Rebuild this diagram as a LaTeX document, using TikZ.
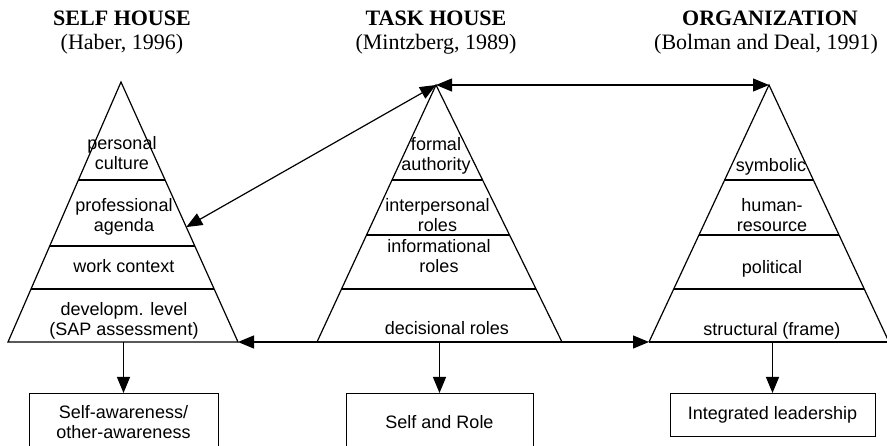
\documentclass[tikz,border=0pt]{standalone}
\usepackage{fontspec}
\setmainfont{Liberation Sans}
\newfontfamily\serifti{Liberation Serif}
\usetikzlibrary{arrows.meta,calc}
\begin{document}
\begin{tikzpicture}[x=1pt,y=-1pt, line width=1.2pt,
  lbl/.style={font=\fontsize{18}{20}\selectfont, align=center, inner sep=0pt},
  ttl/.style={font=\serifti\bfseries\fontsize{22}{24}\selectfont, anchor=base, inner sep=0pt},
  cite/.style={font=\serifti\fontsize{22}{24}\selectfont, anchor=base, inner sep=0pt},
  box/.style={draw, line width=1pt, font=\fontsize{18}{20}\selectfont, align=center, anchor=north, inner xsep=0pt},
  arr/.style={-{Triangle[length=16pt,width=13pt]}},
  darr/.style={{Triangle[length=16pt,width=13pt]}-{Triangle[length=16pt,width=13pt]}}]
\useasboundingbox (0,0) rectangle (887,446);

% titles
\node[ttl] (t1) at (122,26) {SELF HOUSE};
\node[cite] (c1) at (122,50) {(Haber, 1996)};
\node[ttl] (t2) at (436,26) {TASK HOUSE};
\node[cite] (c2) at (436,50) {(Mintzberg, 1989)};
\node[ttl] (t3) at (770,26) {ORGANIZATION};
\node[cite] (c3) at (766,50) {(Bolman and Deal, 1991)};

% triangle corners
\coordinate (lA) at (121,82);  \coordinate (lBL) at (8,342);   \coordinate (lBR) at (238,342);
\coordinate (mA) at (436,85);  \coordinate (mBL) at (317,342); \coordinate (mBR) at (562,342);
\coordinate (rA) at (769,85);  \coordinate (rBL) at (649,342); \coordinate (rBR) at (889,342);

% triangles
\draw[line join=miter] (lBL) -- (lA) -- (lBR) -- cycle;
\draw[line join=miter] (mBL) -- (mA) -- (mBR) -- cycle;
\draw[line join=miter] (rBL) -- (rA) -- (rBR);
\draw (rBR) -- (rBL);

% tier dividers
\foreach \t in {0.3769,0.6308,0.7962}
  \draw ($(lA)!\t!(lBL)$) -- ($(lA)!\t!(lBR)$);
\foreach \t in {0.3696,0.5837,0.7938}{
  \draw ($(mA)!\t!(mBL)$) -- ($(mA)!\t!(mBR)$);
  \draw ($(rA)!\t!(rBL)$) -- ($(rA)!\t!(rBR)$);
}

% tier labels
\node[lbl] (l1) at (122,153.5) {personal\\culture};
\node[lbl] (l2) at (124,217) {professional\\agenda};
\node[lbl] (l3) at (124,266.5) {work context};
\node[lbl] (l4) at (124,320.5) {developm. level\\(SAP assessment)};

\node[lbl] (m1) at (436,155.5) {formal\\authority};
\node[lbl] (m2) at (437.5,215.5) {interpersonal\\roles};
\node[lbl] (m3) at (439,256.5) {informational\\roles};
\node[lbl] (m4) at (447,328.5) {decisional roles};

\node[lbl] (r1) at (771,166.5) {symbolic};
\node[lbl] (r2) at (772,215) {human-\\resource};
\node[lbl] (r3) at (772,268.5) {political};
\node[lbl] (r4) at (772,330.5) {structural (frame)};

% outcome boxes
\node[box, minimum width=189pt, inner ysep=12pt] (b1) at (123.5,393) {Self-awareness/\\other-awareness};
\node[box, minimum width=187pt, inner ysep=22pt] (b2) at (439.5,393) {Self and Role};
\node[box, minimum width=205pt, inner ysep=13pt, text height=13pt, text depth=4pt] (b3) at (772.5,393) {Integrated leadership};

% down arrows
\draw[arr] (b1.north |- lBL) -- (b1.north);
\draw[arr] (b2.north |- mBL) -- (b2.north);
\draw[arr] (b3.north |- rBL) -- (b3.north);

% connecting double arrows
\coordinate (lP) at ($(lA)!0.558!(lBR)$);
\draw[darr] (lP) -- (mA);
\draw[darr] (mA) -- (rA);
\draw[darr] (lBR) -- (rBL);
\end{tikzpicture}
\end{document}
